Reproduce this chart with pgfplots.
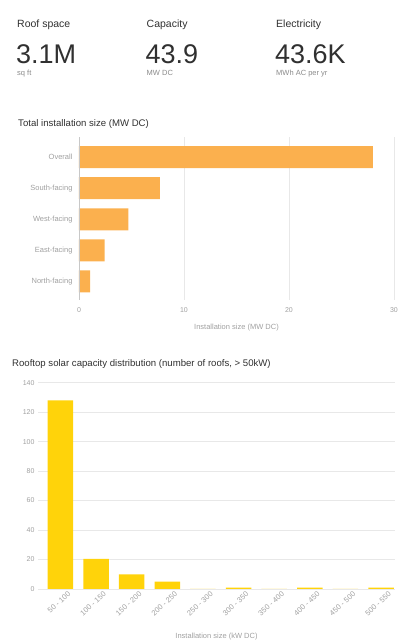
\documentclass[border=0pt]{standalone}
\usepackage{pgfplots}
\pgfplotsset{compat=1.18}
\usepackage{fontspec}
\setmainfont{Liberation Sans}
\definecolor{barorange}{HTML}{FBB04E}
\definecolor{baryellow}{HTML}{FFD30A}
\definecolor{txtdark}{HTML}{303030}
\definecolor{txtgray}{HTML}{8A8A8A}
\definecolor{ticklab}{HTML}{A0A0A0}
\definecolor{gridc}{HTML}{E8E8E8}
\definecolor{axisc}{HTML}{C8C8C8}
\begin{document}
\begin{tikzpicture}
\path[use as bounding box] (0pt,0pt) rectangle (416pt,643pt);
% header
\node[anchor=base west,inner sep=0,text=txtdark,font=\fontsize{10.5}{12}\selectfont] at (17pt,615pt) {Roof space};
\node[anchor=base west,inner sep=0,text=txtdark,font=\fontsize{10.5}{12}\selectfont] at (146.5pt,615pt) {Capacity};
\node[anchor=base west,inner sep=0,text=txtdark,font=\fontsize{10.5}{12}\selectfont] at (276pt,615pt) {Electricity};
\node[anchor=base west,inner sep=0,text=txtdark,font=\fontsize{27}{30}\selectfont] at (16pt,579pt) {3.1M};
\node[anchor=base west,inner sep=0,text=txtdark,font=\fontsize{27}{30}\selectfont] at (145.5pt,579pt) {43.9};
\node[anchor=base west,inner sep=0,text=txtdark,font=\fontsize{27}{30}\selectfont] at (275pt,579pt) {43.6K};
\node[anchor=base west,inner sep=0,text=txtgray,font=\fontsize{7.5}{9}\selectfont] at (17pt,567pt) {sq ft};
\node[anchor=base west,inner sep=0,text=txtgray,font=\fontsize{7.5}{9}\selectfont] at (146.5pt,567pt) {MW DC};
\node[anchor=base west,inner sep=0,text=txtgray,font=\fontsize{7.5}{9}\selectfont] at (276pt,567pt) {MWh AC per yr};
% titles
\node[anchor=base west,inner sep=0,text=txtdark,font=\fontsize{9.6}{11}\selectfont] at (18pt,516.5pt) {Total installation size (MW DC)};
\node[anchor=base west,inner sep=0,text=txtdark,font=\fontsize{9.6}{11}\selectfont] at (12pt,276pt) {Rooftop solar capacity distribution (number of roofs, > 50kW)};

\begin{axis}[
  at={(79pt,343pt)}, anchor=south west,
  scale only axis, width=315pt, height=163pt,
  xbar, bar width=22pt,
  xmin=0, xmax=30, ymin=-0.65, ymax=4.6, y dir=reverse,
  ytick={0,1,2,3,4},
  yticklabels={Overall,South-facing,West-facing,East-facing,North-facing},
  xtick={0,10,20,30},
  axis line style={draw=none},
  major tick length=0pt,
  xmajorgrids, grid style={gridc},
  tick label style={text=ticklab, font=\fontsize{7}{8}\selectfont},
  yticklabel style={font=\fontsize{7.5}{9}\selectfont, xshift=-3pt},
  xticklabel style={yshift=-4pt},
  /pgf/number format/assume math mode=true,
  xlabel={Installation size (MW DC)},
  xlabel style={text=ticklab, font=\fontsize{7.5}{9}\selectfont, yshift=-5pt},
]
\addplot[fill=barorange, draw=none] coordinates {(28.0,0) (7.7,1) (4.7,2) (2.45,3) (1.05,4)};
\draw[axisc] (rel axis cs:0,0) -- (rel axis cs:0,1);
\end{axis}

\begin{axis}[
  at={(38pt,54pt)}, anchor=south west,
  scale only axis, width=357pt, height=206.3pt,
  ybar, bar width=25.5pt,
  xmin=-0.63, xmax=9.39, ymin=0, ymax=140,
  xtick={0,...,9},
  xticklabels={50 - 100,100 - 150,150 - 200,200 - 250,250 - 300,300 - 350,350 - 400,400 - 450,450 - 500,500 - 550},
  ytick={0,20,...,140},
  axis line style={draw=none},
  major tick length=0pt,
  ymajorgrids, grid style={gridc},
  tick label style={text=ticklab, font=\fontsize{7}{8}\selectfont},
  xticklabel style={rotate=42, anchor=north east, inner sep=1pt, font=\fontsize{7.5}{9}\selectfont, xshift=5pt, yshift=-5pt},
  /pgf/number format/assume math mode=true,
  xlabel={Installation size (kW DC)},
  xlabel style={text=ticklab, font=\fontsize{7.5}{9}\selectfont, yshift=-12pt},
]
\addplot[fill=baryellow, draw=none] coordinates {(0,128) (1,20.5) (2,10) (3,5) (4,0) (5,1) (6,0) (7,1) (8,0) (9,1)};
\draw[axisc] (rel axis cs:0,0) -- (rel axis cs:1,0);
\end{axis}
\end{tikzpicture}
\end{document}
